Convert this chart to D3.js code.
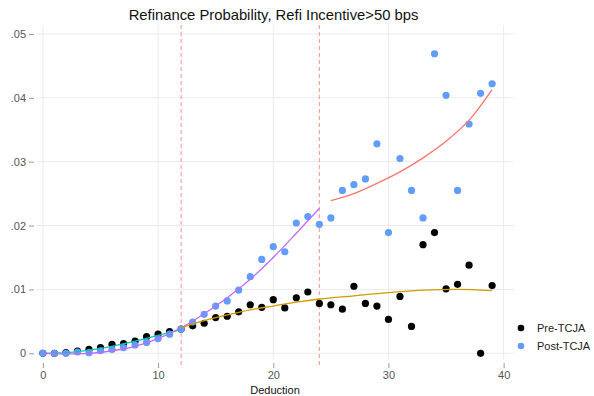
<!DOCTYPE html>
<html>
<head>
<meta charset="utf-8">
<script src="https://cdn.jsdelivr.net/npm/d3@7"></script>
<style>
  body { margin: 0; background: #fff; }
  text { font-family: "Liberation Sans", Arial, sans-serif; }
</style>
</head>
<body>
<div id="chart"></div>
<script>
// data
const deduction = [0, 1, 2, 3, 4, 5, 6, 7, 8, 9, 10, 11, 12, 13, 14, 15, 16, 17, 18, 19,
    20, 21, 22, 23, 24, 25, 26, 27, 28, 29, 30, 31, 32, 33, 34, 35, 36, 37, 38, 39]
const preTCJA = [0, 0, 0.0001, 0.00036, 0.0006, 0.0009, 0.0014, 0.0015, 0.0019, 0.0026,
    0.003, 0.0034, 0.0038, 0.0043, 0.0047, 0.0056, 0.0058, 0.0065, 0.0076, 0.0072,
    0.0084, 0.0071, 0.0087, 0.0096, 0.0078, 0.0076, 0.0069, 0.0105, 0.0078, 0.0074,
    0.0053, 0.0089, 0.0042, 0.017, 0.0189, 0.0101, 0.0108, 0.0138, 0, 0.0106]
const postTCJA = [0, 0, 0, 0.0002, 0.0001, 0.0004, 0.0006, 0.0009, 0.0013, 0.0017,
    0.0023, 0.003, 0.0038, 0.0049, 0.0061, 0.0074, 0.0082, 0.0099, 0.012, 0.0147,
    0.0167, 0.0159, 0.0204, 0.0214, 0.0202, 0.0212, 0.0255, 0.0264, 0.0273, 0.0328,
    0.0189, 0.0305, 0.0255, 0.0212, 0.0469, 0.0404, 0.0255, 0.0359, 0.0407, 0.0422]

// fitted curves
const fitPreLowX = [0, 2, 4, 6, 8, 10, 12]
const fitPreLow = [0, 0.0001, 0.0005, 0.0011, 0.0019, 0.0028, 0.0037]
const fitPostLowX = [0, 2, 4, 6, 8, 10, 12, 14, 16, 18, 20, 22, 24]
const fitPostLow = [0, -0.0001, 0, 0.0004, 0.0011, 0.0023, 0.004, 0.0062, 0.0087, 0.0116, 0.015, 0.0188, 0.0227]
const fitPreHighX = [12, 14, 16, 18, 20, 22, 24, 27, 30, 33, 36, 39]
const fitPreHigh = [0.004, 0.0051, 0.006, 0.0068, 0.0074, 0.008, 0.0085, 0.009, 0.0095, 0.0099, 0.01, 0.0098]
const fitPostHighX = [25, 27, 29, 31, 33, 35, 37, 39]
const fitPostHigh = [0.0239, 0.025, 0.0266, 0.0284, 0.0306, 0.0332, 0.0365, 0.0413]

const cutoffs = [12, 24]
const xTicks = [0, 10, 20, 30, 40]
const yTicks = [0, 0.01, 0.02, 0.03, 0.04, 0.05]
const seriesNames = ['Pre-TCJA', 'Post-TCJA']

//variables
const width = 594
const height = 396
const x = d3.scaleLinear().domain([-0.6, 40.9]).range([36, 514])
const y = d3.scaleLinear().domain([-0.00105, 0.0514]).range([360, 25])
const dotColor = ['#000000', '#619cff']

const svg = d3.select('#chart')
    .append('svg')
    .attr('width', width)
    .attr('height', height)

//title
svg.append('text')
    .attr('x', 273.5)
    .attr('y', 20)
    .attr('text-anchor', 'middle')
    .style('font-size', '14.8px')
    .style('fill', '#111')
    .text('Refinance Probability, Refi Incentive>50 bps')

//grid
svg.append('g')
    .selectAll('line')
    .data(yTicks)
    .enter()
    .append('line')
    .attr('x1', x.range()[0])
    .attr('x2', x.range()[1])
    .attr('y1', (d) => y(d))
    .attr('y2', (d) => y(d))
    .attr('stroke', '#ebebeb')
    .attr('stroke-width', 1)

svg.append('g')
    .selectAll('line')
    .data(xTicks)
    .enter()
    .append('line')
    .attr('x1', (d) => x(d))
    .attr('x2', (d) => x(d))
    .attr('y1', y.range()[1])
    .attr('y2', y.range()[0])
    .attr('stroke', '#ebebeb')
    .attr('stroke-width', 1)

//axes
const yAxis = d3.axisLeft(y)
    .tickValues(yTicks)
    .tickSize(5)
    .tickPadding(3)
    .tickFormat((d) => d === 0 ? '0' : d3.format('.2f')(d).replace(/^0/, ''))
const gy = svg.append('g').attr('transform', 'translate(34,0)').call(yAxis)
gy.select('.domain').remove()
gy.selectAll('line').attr('stroke', '#999')
gy.selectAll('text').style('font-size', '11px').style('fill', '#555')

const xAxis = d3.axisBottom(x)
    .tickValues(xTicks)
    .tickSize(5)
    .tickPadding(3)
    .tickFormat(d3.format('d'))
const gx = svg.append('g').attr('transform', 'translate(0,363)').call(xAxis)
gx.select('.domain').remove()
gx.selectAll('line').attr('stroke', '#999')
gx.selectAll('text').style('font-size', '11px').style('fill', '#555')

svg.append('text')
    .attr('x', 275)
    .attr('y', 394)
    .attr('text-anchor', 'middle')
    .style('font-size', '11px')
    .style('fill', '#111')
    .text('Deduction')

//cutoff lines
svg.append('g')
    .selectAll('line')
    .data(cutoffs)
    .enter()
    .append('line')
    .attr('x1', (d) => x(d))
    .attr('x2', (d) => x(d))
    .attr('y1', y.range()[1])
    .attr('y2', 366)
    .attr('stroke', '#f7958f')
    .attr('stroke-width', 1)
    .attr('stroke-dasharray', '4,3')

//dots
const drawDots = (vals, clr) => {
    svg.append('g')
        .selectAll('circle')
        .data(deduction.map((d, i) => [d, vals[i]]))
        .enter()
        .append('circle')
        .attr('cx', (d) => x(d[0]))
        .attr('cy', (d) => y(d[1]))
        .attr('r', 3.6)
        .attr('fill', clr)
}
drawDots(preTCJA, dotColor[0])
drawDots(postTCJA, dotColor[1])

//fit lines
const line = d3.line()
    .x((d) => x(d[0]))
    .y((d) => y(d[1]))
    .curve(d3.curveMonotoneX)
const drawFit = (xs, ys, clr) => {
    svg.append('path')
        .datum(xs.map((d, i) => [d, ys[i]]))
        .attr('d', line)
        .attr('fill', 'none')
        .attr('stroke', clr)
        .attr('stroke-width', 1.3)
}
drawFit(fitPreLowX, fitPreLow, '#17c0b5')
drawFit(fitPostLowX, fitPostLow, '#c06bff')
drawFit(fitPreHighX, fitPreHigh, '#d19a00')
drawFit(fitPostHighX, fitPostHigh, '#f8766d')

//legend
const legend = svg.append('g')
    .selectAll('g')
    .data(seriesNames)
    .enter()
    .append('g')
    .attr('transform', (d, i) => `translate(521,${328 + i * 18})`)
legend.append('circle')
    .attr('r', 3.3)
    .attr('fill', (d, i) => dotColor[i])
legend.append('text')
    .attr('x', 16)
    .attr('y', 4)
    .style('font-size', '11px')
    .style('fill', '#222')
    .text((d) => d)
</script>
</body>
</html>
